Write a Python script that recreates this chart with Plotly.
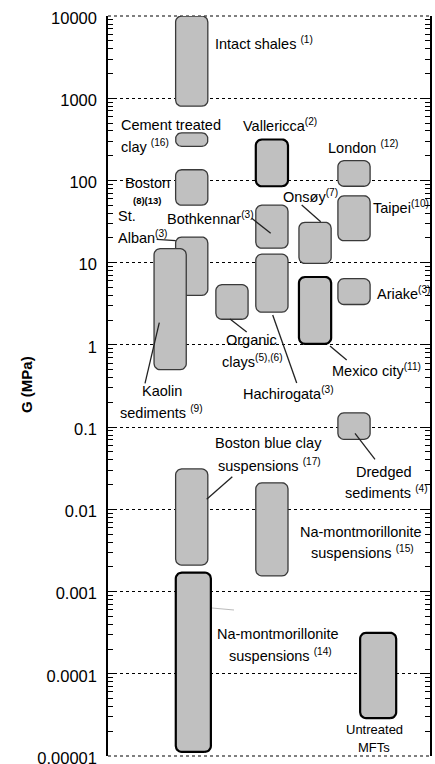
import numpy as np
import plotly.graph_objects as go

# ---- data ----
materials = ["Intact shales", "Cement treated clay", "Boston", "St. Alban", "Kaolin sediments",
             "Organic clays", "Vallericca", "Bothkennar", "Hachirogata", "Onsøy", "Mexico city",
             "London", "Taipei", "Ariake", "Dredged sediments", "Boston blue clay suspensions",
             "Na-montmorillonite suspensions (15)", "Na-montmorillonite suspensions (14)", "Untreated MFTs"]
column = [2.6, 2.6, 2.6, 2.6, 1.93, 3.85, 5.09, 5.09, 5.09, 6.43, 6.43,
          7.64, 7.64, 7.64, 7.64, 2.6, 5.09, 2.65, 8.39]
g_low = [800, 260, 50, 4.0, 0.5, 2.05, 85, 15, 2.5, 9.8, 1.03,
         85, 18.5, 3.1, 0.071, 0.0021, 0.00155, 0.0000112, 0.0000288]
g_high = [10000, 380, 135, 20.5, 14.8, 5.4, 315, 50, 12.7, 31, 6.7,
          174, 65, 6.4, 0.149, 0.031, 0.021, 0.0017, 0.000315]
tick_vals = [1e4, 1e3, 1e2, 1e1, 1, 0.1, 0.01, 0.001, 0.0001, 0.00001]
tick_text = ["10000", "1000", "100", "10", "1", "0.1", "0.01", "0.001", "0.0001", "0.00001"]

# ---- styling ----
heavy = {"Vallericca", "Mexico city", "Na-montmorillonite suspensions (14)", "Untreated MFTs"}
wide = {"Na-montmorillonite suspensions (14)": 1.09, "Untreated MFTs": 1.12}
W, H = 435, 764
L, R, T, B = 108, 430, 16, 756  # plot area in screen pixels
XR = (0, 10)
YR = (-5.0005, 4.0005)
px_per_x = (R - L) / (XR[1] - XR[0])
px_per_dec = (B - T) / (YR[1] - YR[0])
rad = 6.0

fig = go.Figure()


def rounded(xc, w, lo, hi):
    x0, x1 = xc - w / 2, xc + w / 2
    y0, y1 = np.log10(lo), np.log10(hi)
    rx, ry = rad / px_per_x, rad / px_per_dec
    rx = min(rx, (x1 - x0) / 2)
    ry = min(ry, (y1 - y0) / 2)
    xs, ys = [], []
    corners = [(x1 - rx, y0 + ry, -90, 0), (x1 - rx, y1 - ry, 0, 90),
               (x0 + rx, y1 - ry, 90, 180), (x0 + rx, y0 + ry, 180, 270)]
    for cx, cy, a0, a1 in corners:
        t = np.radians(np.linspace(a0, a1, 8))
        xs.extend(cx + rx * np.cos(t))
        ys.extend(cy + ry * np.sin(t))
    xs.append(xs[0]); ys.append(ys[0])
    return xs, [10 ** v for v in ys]


for name, xc, lo, hi in zip(materials, column, g_low, g_high):
    xs, ys = rounded(xc, wide.get(name, 1.0), lo, hi)
    hv = name in heavy
    fig.add_trace(go.Scatter(x=xs, y=ys, mode="lines", fill="toself",
                             fillcolor="#c0c0c0",
                             line=dict(color="#000000" if hv else "#3a3a3a", width=2.2 if hv else 1.3),
                             hoverinfo="skip", showlegend=False))

# empty trace so the right-hand axis is drawn
fig.add_trace(go.Scatter(x=[None], y=[None], yaxis="y2", mode="lines",
                         hoverinfo="skip", showlegend=False))


def px(x):
    return (x - L) / (R - L)


def py(y):
    return (B - y) / (B - T)


FONT = "Liberation Sans, Arial"
labels = [
    ("Intact shales <sup>(1)</sup>", 213, 43),
    ("Cement treated", 119, 125),
    ("clay <sup>(16)</sup>", 119, 146),
    ("Vallericca<sup>(2)</sup>", 241, 125),
    ("London <sup>(12)</sup>", 326, 147),
    ("Boston", 123, 183),
    ("Onsøy<sup>(7)</sup>", 281, 196),
    ("Bothkennar<sup>(3)</sup>", 165, 218),
    ("Taipei<sup>(10)</sup>", 371, 207),
    ("St.", 116, 216),
    ("Alban<sup>(3)</sup>", 116, 237),
    ("Ariake<sup>(3)</sup>", 375, 293),
    ("Organic", 224, 340),
    ("clays<sup>(5),(6)</sup>", 220, 361),
    ("Mexico city<sup>(11)</sup>", 330, 370),
    ("Hachirogata<sup>(3)</sup>", 241, 393),
    ("Kaolin", 140, 391),
    ("sediments <sup>(9)</sup>", 118, 412),
    ("Boston blue clay", 213, 443),
    ("suspensions <sup>(17)</sup>", 216, 465),
    ("Dredged", 354, 472),
    ("sediments <sup>(4)</sup>", 343, 492),
    ("Na-montmorillonite", 298, 532),
    ("suspensions <sup>(15)</sup>", 309, 552),
    ("Na-montmorillonite", 215, 634),
    ("suspensions <sup>(14)</sup>", 227, 655),
]
for txt, x, y in labels:
    fig.add_annotation(text=txt, x=px(x), y=py(y), xref="paper", yref="paper",
                       xanchor="left", yanchor="middle", showarrow=False,
                       font=dict(family=FONT, size=14.5, color="black"))

fig.add_annotation(text="<b>(8)(13)</b>", x=px(131), y=py(200), xref="paper", yref="paper",
                   xanchor="left", yanchor="middle", showarrow=False,
                   font=dict(family=FONT, size=9.5, color="black"))
for txt, x, y in [("Untreated", 374, 729), ("MFTs", 374, 747)]:
    fig.add_annotation(text=txt, x=px(x), y=py(y), xref="paper", yref="paper",
                       xanchor="center", yanchor="middle", showarrow=False,
                       font=dict(family=FONT, size=13, color="black"))

fig.add_annotation(text="<b>G (MPa)</b>", x=px(26), y=py(385), xref="paper", yref="paper",
                   xanchor="center", yanchor="middle", showarrow=False, textangle=-90,
                   font=dict(family=FONT, size=15, color="black"))

leaders = [
    (301.7, 205, 320.7, 221.7),
    (251.7, 218.3, 270.7, 233.3),
    (156.7, 239.3, 175.7, 240.7),
    (230, 319, 246.7, 332),
    (330, 346, 346.7, 360),
    (272.7, 315, 296.7, 383),
    (159.3, 322.7, 145, 383.3),
    (232.3, 476.7, 206.7, 499.3),
    (355, 433.3, 375, 459.3),
]
for x0, y0, x1, y1 in leaders:
    fig.add_shape(type="line", xref="paper", yref="paper", x0=px(x0), y0=py(y0), x1=px(x1), y1=py(y1),
                  line=dict(color="#222222", width=1.3))
fig.add_shape(type="line", xref="paper", yref="paper", x0=px(212), y0=py(608), x1=px(234), y1=py(610),
              line=dict(color="#bbbbbb", width=1))

# dotted gridlines at the top and bottom edges of the plot
for yv in (1.0, 0.0):
    fig.add_shape(type="line", xref="paper", yref="paper", x0=0, x1=1, y0=yv, y1=yv,
                  layer="below", line=dict(color="black", width=1.2, dash="dot"))

common_ticks = dict(type="log", range=list(YR), tickvals=tick_vals, automargin=False,
                    ticks="inside", ticklen=8, tickwidth=1.3, tickcolor="black",
                    showline=True, linecolor="black", linewidth=1.5, zeroline=False,
                    minor=dict(ticks="inside", ticklen=5, tickcolor="black", tickwidth=1,
                               dtick="D1", showgrid=False))

fig.update_layout(
    width=W, height=H, margin=dict(l=L, r=W - R, t=T, b=H - B, autoexpand=False),
    paper_bgcolor="white", plot_bgcolor="white",
    xaxis=dict(range=list(XR), showline=False, showticklabels=False, ticks="",
               showgrid=False, zeroline=False, automargin=False),
    yaxis=dict(**common_ticks, ticktext=tick_text, mirror=False,
               showgrid=True, gridcolor="black", griddash="dot", gridwidth=1.2,
               ticklabelstandoff=6, ticklabeloverflow="allow", ticklabelshift=2,
               tickfont=dict(family=FONT, size=16.5, color="black")),
    yaxis2=dict(**common_ticks, overlaying="y", side="right", showgrid=False,
                showticklabels=False),
)
fig.write_html("out.html", config={"displayModeBar": False},
               post_script="document.body.style.margin='0';document.body.style.overflow='hidden';")
